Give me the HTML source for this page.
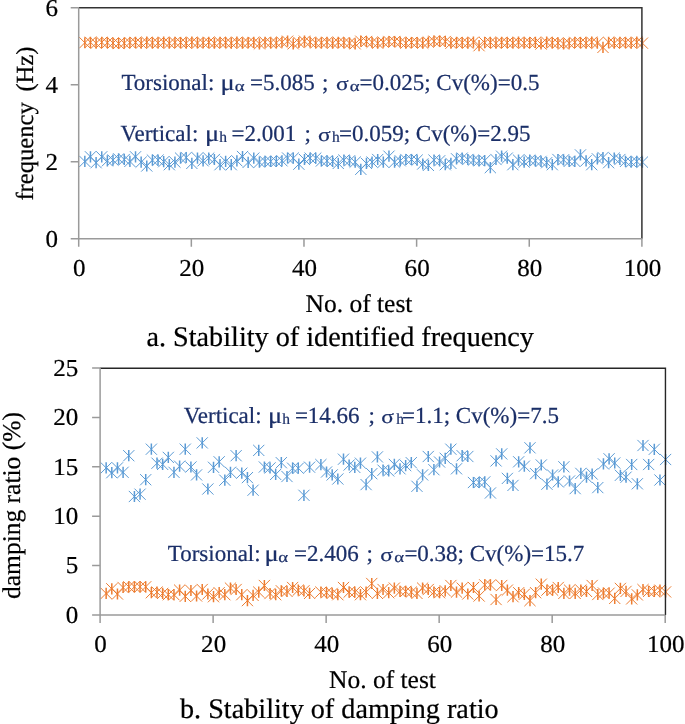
<!DOCTYPE html><html><head><meta charset="utf-8"><style>html,body{margin:0;padding:0;background:#fff;width:685px;height:724px;overflow:hidden}svg{display:block;will-change:transform}text{stroke-width:0.22px;text-rendering:geometricPrecision}</style></head><body><svg width="685" height="724" viewBox="0 0 685 724"><rect width="685" height="724" fill="#fff"/><path d="M79.23 37.13l11.20 11.20m-11.20 0l11.20 -11.20M84.86 36.70l11.20 11.20m-11.20 0l11.20 -11.20M90.50 37.65l11.20 11.20m-11.20 0l11.20 -11.20M96.13 36.69l11.20 11.20m-11.20 0l11.20 -11.20M101.76 37.15l11.20 11.20m-11.20 0l11.20 -11.20M107.39 37.44l11.20 11.20m-11.20 0l11.20 -11.20M113.02 37.90l11.20 11.20m-11.20 0l11.20 -11.20M118.66 37.55l11.20 11.20m-11.20 0l11.20 -11.20M124.29 36.98l11.20 11.20m-11.20 0l11.20 -11.20M129.92 36.82l11.20 11.20m-11.20 0l11.20 -11.20M135.55 37.63l11.20 11.20m-11.20 0l11.20 -11.20M141.18 36.61l11.20 11.20m-11.20 0l11.20 -11.20M146.82 37.29l11.20 11.20m-11.20 0l11.20 -11.20M152.45 37.31l11.20 11.20m-11.20 0l11.20 -11.20M158.08 36.60l11.20 11.20m-11.20 0l11.20 -11.20M163.71 37.62l11.20 11.20m-11.20 0l11.20 -11.20M169.34 36.84l11.20 11.20m-11.20 0l11.20 -11.20M174.98 36.96l11.20 11.20m-11.20 0l11.20 -11.20M180.61 37.57l11.20 11.20m-11.20 0l11.20 -11.20M186.24 36.56l11.20 11.20m-11.20 0l11.20 -11.20M191.87 37.42l11.20 11.20m-11.20 0l11.20 -11.20M197.50 37.17l11.20 11.20m-11.20 0l11.20 -11.20M203.14 36.68l11.20 11.20m-11.20 0l11.20 -11.20M208.77 37.65l11.20 11.20m-11.20 0l11.20 -11.20M214.40 36.72l11.20 11.20m-11.20 0l11.20 -11.20M220.03 37.10l11.20 11.20m-11.20 0l11.20 -11.20M225.66 37.47l11.20 11.20m-11.20 0l11.20 -11.20M231.30 36.55l11.20 11.20m-11.20 0l11.20 -11.20M236.93 37.53l11.20 11.20m-11.20 0l11.20 -11.20M242.56 37.02l11.20 11.20m-11.20 0l11.20 -11.20M248.19 36.79l11.20 11.20m-11.20 0l11.20 -11.20M253.82 38.20l11.20 11.20m-11.20 0l11.20 -11.20M259.46 36.63l11.20 11.20m-11.20 0l11.20 -11.20M265.09 37.25l11.20 11.20m-11.20 0l11.20 -11.20M270.72 37.35l11.20 11.20m-11.20 0l11.20 -11.20M276.35 36.58l11.20 11.20m-11.20 0l11.20 -11.20M281.98 35.60l11.20 11.20m-11.20 0l11.20 -11.20M287.62 38.20l11.20 11.20m-11.20 0l11.20 -11.20M293.25 36.92l11.20 11.20m-11.20 0l11.20 -11.20M298.88 35.60l11.20 11.20m-11.20 0l11.20 -11.20M304.51 36.57l11.20 11.20m-11.20 0l11.20 -11.20M310.14 37.39l11.20 11.20m-11.20 0l11.20 -11.20M315.78 37.21l11.20 11.20m-11.20 0l11.20 -11.20M321.41 36.65l11.20 11.20m-11.20 0l11.20 -11.20M327.04 37.64l11.20 11.20m-11.20 0l11.20 -11.20M332.67 36.75l11.20 11.20m-11.20 0l11.20 -11.20M338.30 37.06l11.20 11.20m-11.20 0l11.20 -11.20M343.94 37.50l11.20 11.20m-11.20 0l11.20 -11.20M349.57 38.20l11.20 11.20m-11.20 0l11.20 -11.20M355.20 35.60l11.20 11.20m-11.20 0l11.20 -11.20M360.83 35.90l11.20 11.20m-11.20 0l11.20 -11.20M366.46 36.75l11.20 11.20m-11.20 0l11.20 -11.20M372.10 37.64l11.20 11.20m-11.20 0l11.20 -11.20M377.73 36.65l11.20 11.20m-11.20 0l11.20 -11.20M383.36 35.90l11.20 11.20m-11.20 0l11.20 -11.20M388.99 35.90l11.20 11.20m-11.20 0l11.20 -11.20M394.62 36.57l11.20 11.20m-11.20 0l11.20 -11.20M400.26 37.59l11.20 11.20m-11.20 0l11.20 -11.20M405.89 36.92l11.20 11.20m-11.20 0l11.20 -11.20M411.52 36.88l11.20 11.20m-11.20 0l11.20 -11.20M417.15 37.61l11.20 11.20m-11.20 0l11.20 -11.20M422.78 36.58l11.20 11.20m-11.20 0l11.20 -11.20M428.42 35.60l11.20 11.20m-11.20 0l11.20 -11.20M434.05 35.60l11.20 11.20m-11.20 0l11.20 -11.20M439.68 35.90l11.20 11.20m-11.20 0l11.20 -11.20M445.31 37.64l11.20 11.20m-11.20 0l11.20 -11.20M450.94 36.79l11.20 11.20m-11.20 0l11.20 -11.20M456.58 37.02l11.20 11.20m-11.20 0l11.20 -11.20M462.21 37.53l11.20 11.20m-11.20 0l11.20 -11.20M467.84 36.55l11.20 11.20m-11.20 0l11.20 -11.20M473.47 40.10l11.20 11.20m-11.20 0l11.20 -11.20M479.10 37.10l11.20 11.20m-11.20 0l11.20 -11.20M484.74 36.72l11.20 11.20m-11.20 0l11.20 -11.20M490.37 37.65l11.20 11.20m-11.20 0l11.20 -11.20M496.00 36.68l11.20 11.20m-11.20 0l11.20 -11.20M501.63 37.17l11.20 11.20m-11.20 0l11.20 -11.20M507.26 37.42l11.20 11.20m-11.20 0l11.20 -11.20M512.90 36.56l11.20 11.20m-11.20 0l11.20 -11.20M518.53 37.57l11.20 11.20m-11.20 0l11.20 -11.20M524.16 36.96l11.20 11.20m-11.20 0l11.20 -11.20M529.79 36.84l11.20 11.20m-11.20 0l11.20 -11.20M535.42 38.40l11.20 11.20m-11.20 0l11.20 -11.20M541.06 36.60l11.20 11.20m-11.20 0l11.20 -11.20M546.69 37.31l11.20 11.20m-11.20 0l11.20 -11.20M552.32 37.29l11.20 11.20m-11.20 0l11.20 -11.20M557.95 38.40l11.20 11.20m-11.20 0l11.20 -11.20M563.58 37.63l11.20 11.20m-11.20 0l11.20 -11.20M569.22 36.82l11.20 11.20m-11.20 0l11.20 -11.20M574.85 36.98l11.20 11.20m-11.20 0l11.20 -11.20M580.48 37.55l11.20 11.20m-11.20 0l11.20 -11.20M586.11 36.56l11.20 11.20m-11.20 0l11.20 -11.20M591.74 37.44l11.20 11.20m-11.20 0l11.20 -11.20M597.38 41.80l11.20 11.20m-11.20 0l11.20 -11.20M603.01 36.69l11.20 11.20m-11.20 0l11.20 -11.20M608.64 37.65l11.20 11.20m-11.20 0l11.20 -11.20M614.27 36.70l11.20 11.20m-11.20 0l11.20 -11.20M619.90 37.13l11.20 11.20m-11.20 0l11.20 -11.20M625.54 37.45l11.20 11.20m-11.20 0l11.20 -11.20M631.17 36.55l11.20 11.20m-11.20 0l11.20 -11.20M636.80 37.54l11.20 11.20m-11.20 0l11.20 -11.20" fill="none" stroke="#ed7d31" stroke-width="1.0"/><path d="M84.83 37.13v11.20M90.46 36.70v11.20M96.10 37.65v11.20M101.73 36.69v11.20M107.36 37.15v11.20M112.99 37.44v11.20M118.62 37.90v11.20M124.26 37.55v11.20M129.89 36.98v11.20M135.52 36.82v11.20M141.15 37.63v11.20M146.78 36.61v11.20M152.42 37.29v11.20M158.05 37.31v11.20M163.68 36.60v11.20M169.31 37.62v11.20M174.94 36.84v11.20M180.58 36.96v11.20M186.21 37.57v11.20M191.84 36.56v11.20M197.47 37.42v11.20M203.10 37.17v11.20M208.74 36.68v11.20M214.37 37.65v11.20M220.00 36.72v11.20M225.63 37.10v11.20M231.26 37.47v11.20M236.90 36.55v11.20M242.53 37.53v11.20M248.16 37.02v11.20M253.79 36.79v11.20M259.42 38.20v11.20M265.06 36.63v11.20M270.69 37.25v11.20M276.32 37.35v11.20M281.95 36.58v11.20M287.58 35.60v11.20M293.22 38.20v11.20M298.85 36.92v11.20M304.48 35.60v11.20M310.11 36.57v11.20M315.74 37.39v11.20M321.38 37.21v11.20M327.01 36.65v11.20M332.64 37.64v11.20M338.27 36.75v11.20M343.90 37.06v11.20M349.54 37.50v11.20M355.17 38.20v11.20M360.80 35.60v11.20M366.43 35.90v11.20M372.06 36.75v11.20M377.70 37.64v11.20M383.33 36.65v11.20M388.96 35.90v11.20M394.59 35.90v11.20M400.22 36.57v11.20M405.86 37.59v11.20M411.49 36.92v11.20M417.12 36.88v11.20M422.75 37.61v11.20M428.38 36.58v11.20M434.02 35.60v11.20M439.65 35.60v11.20M445.28 35.90v11.20M450.91 37.64v11.20M456.54 36.79v11.20M462.18 37.02v11.20M467.81 37.53v11.20M473.44 36.55v11.20M479.07 40.10v11.20M484.70 37.10v11.20M490.34 36.72v11.20M495.97 37.65v11.20M501.60 36.68v11.20M507.23 37.17v11.20M512.86 37.42v11.20M518.50 36.56v11.20M524.13 37.57v11.20M529.76 36.96v11.20M535.39 36.84v11.20M541.02 38.40v11.20M546.66 36.60v11.20M552.29 37.31v11.20M557.92 37.29v11.20M563.55 38.40v11.20M569.18 37.63v11.20M574.82 36.82v11.20M580.45 36.98v11.20M586.08 37.55v11.20M591.71 36.56v11.20M597.34 37.44v11.20M602.98 41.80v11.20M608.61 36.69v11.20M614.24 37.65v11.20M619.87 36.70v11.20M625.50 37.13v11.20M631.14 37.45v11.20M636.77 36.55v11.20M642.40 37.54v11.20" fill="none" stroke="#ed7d31" stroke-width="1.5"/><path d="M79.23 155.80l11.20 11.20m-11.20 0l11.20 -11.20M84.86 151.20l11.20 11.20m-11.20 0l11.20 -11.20M90.50 157.10l11.20 11.20m-11.20 0l11.20 -11.20M96.13 151.20l11.20 11.20m-11.20 0l11.20 -11.20M101.76 155.20l11.20 11.20m-11.20 0l11.20 -11.20M107.39 154.50l11.20 11.20m-11.20 0l11.20 -11.20M113.02 153.20l11.20 11.20m-11.20 0l11.20 -11.20M118.66 153.90l11.20 11.20m-11.20 0l11.20 -11.20M124.29 155.80l11.20 11.20m-11.20 0l11.20 -11.20M129.92 151.20l11.20 11.20m-11.20 0l11.20 -11.20M135.55 156.50l11.20 11.20m-11.20 0l11.20 -11.20M141.18 160.40l11.20 11.20m-11.20 0l11.20 -11.20M146.82 154.50l11.20 11.20m-11.20 0l11.20 -11.20M152.45 154.50l11.20 11.20m-11.20 0l11.20 -11.20M158.08 156.10l11.20 11.20m-11.20 0l11.20 -11.20M163.71 159.10l11.20 11.20m-11.20 0l11.20 -11.20M169.34 156.50l11.20 11.20m-11.20 0l11.20 -11.20M174.98 152.50l11.20 11.20m-11.20 0l11.20 -11.20M180.61 151.90l11.20 11.20m-11.20 0l11.20 -11.20M186.24 157.80l11.20 11.20m-11.20 0l11.20 -11.20M191.87 152.50l11.20 11.20m-11.20 0l11.20 -11.20M197.50 155.20l11.20 11.20m-11.20 0l11.20 -11.20M203.14 152.50l11.20 11.20m-11.20 0l11.20 -11.20M208.77 153.90l11.20 11.20m-11.20 0l11.20 -11.20M214.40 159.10l11.20 11.20m-11.20 0l11.20 -11.20M220.03 155.80l11.20 11.20m-11.20 0l11.20 -11.20M225.66 159.10l11.20 11.20m-11.20 0l11.20 -11.20M231.30 155.20l11.20 11.20m-11.20 0l11.20 -11.20M236.93 150.90l11.20 11.20m-11.20 0l11.20 -11.20M242.56 156.80l11.20 11.20m-11.20 0l11.20 -11.20M248.19 152.50l11.20 11.20m-11.20 0l11.20 -11.20M253.82 156.50l11.20 11.20m-11.20 0l11.20 -11.20M259.46 155.80l11.20 11.20m-11.20 0l11.20 -11.20M265.09 155.80l11.20 11.20m-11.20 0l11.20 -11.20M270.72 155.80l11.20 11.20m-11.20 0l11.20 -11.20M276.35 155.20l11.20 11.20m-11.20 0l11.20 -11.20M281.98 152.40l11.20 11.20m-11.20 0l11.20 -11.20M287.62 152.50l11.20 11.20m-11.20 0l11.20 -11.20M293.25 158.60l11.20 11.20m-11.20 0l11.20 -11.20M298.88 153.90l11.20 11.20m-11.20 0l11.20 -11.20M304.51 152.50l11.20 11.20m-11.20 0l11.20 -11.20M310.14 152.50l11.20 11.20m-11.20 0l11.20 -11.20M315.78 155.40l11.20 11.20m-11.20 0l11.20 -11.20M321.41 155.20l11.20 11.20m-11.20 0l11.20 -11.20M327.04 155.80l11.20 11.20m-11.20 0l11.20 -11.20M332.67 157.80l11.20 11.20m-11.20 0l11.20 -11.20M338.30 154.50l11.20 11.20m-11.20 0l11.20 -11.20M343.94 155.20l11.20 11.20m-11.20 0l11.20 -11.20M349.57 156.50l11.20 11.20m-11.20 0l11.20 -11.20M355.20 163.70l11.20 11.20m-11.20 0l11.20 -11.20M360.83 157.80l11.20 11.20m-11.20 0l11.20 -11.20M366.46 156.50l11.20 11.20m-11.20 0l11.20 -11.20M372.10 153.90l11.20 11.20m-11.20 0l11.20 -11.20M377.73 156.50l11.20 11.20m-11.20 0l11.20 -11.20M383.36 150.60l11.20 11.20m-11.20 0l11.20 -11.20M388.99 156.50l11.20 11.20m-11.20 0l11.20 -11.20M394.62 155.20l11.20 11.20m-11.20 0l11.20 -11.20M400.26 153.90l11.20 11.20m-11.20 0l11.20 -11.20M405.89 153.90l11.20 11.20m-11.20 0l11.20 -11.20M411.52 154.50l11.20 11.20m-11.20 0l11.20 -11.20M417.15 158.40l11.20 11.20m-11.20 0l11.20 -11.20M422.78 159.80l11.20 11.20m-11.20 0l11.20 -11.20M428.42 154.50l11.20 11.20m-11.20 0l11.20 -11.20M434.05 155.20l11.20 11.20m-11.20 0l11.20 -11.20M439.68 159.10l11.20 11.20m-11.20 0l11.20 -11.20M445.31 157.80l11.20 11.20m-11.20 0l11.20 -11.20M450.94 153.20l11.20 11.20m-11.20 0l11.20 -11.20M456.58 152.50l11.20 11.20m-11.20 0l11.20 -11.20M462.21 153.90l11.20 11.20m-11.20 0l11.20 -11.20M467.84 154.50l11.20 11.20m-11.20 0l11.20 -11.20M473.47 155.20l11.20 11.20m-11.20 0l11.20 -11.20M479.10 154.90l11.20 11.20m-11.20 0l11.20 -11.20M484.74 162.00l11.20 11.20m-11.20 0l11.20 -11.20M490.37 153.90l11.20 11.20m-11.20 0l11.20 -11.20M496.00 150.60l11.20 11.20m-11.20 0l11.20 -11.20M501.63 152.50l11.20 11.20m-11.20 0l11.20 -11.20M507.26 159.10l11.20 11.20m-11.20 0l11.20 -11.20M512.90 154.50l11.20 11.20m-11.20 0l11.20 -11.20M518.53 156.50l11.20 11.20m-11.20 0l11.20 -11.20M524.16 154.50l11.20 11.20m-11.20 0l11.20 -11.20M529.79 155.20l11.20 11.20m-11.20 0l11.20 -11.20M535.42 155.80l11.20 11.20m-11.20 0l11.20 -11.20M541.06 157.10l11.20 11.20m-11.20 0l11.20 -11.20M546.69 159.10l11.20 11.20m-11.20 0l11.20 -11.20M552.32 153.90l11.20 11.20m-11.20 0l11.20 -11.20M557.95 154.20l11.20 11.20m-11.20 0l11.20 -11.20M563.58 155.80l11.20 11.20m-11.20 0l11.20 -11.20M569.22 155.80l11.20 11.20m-11.20 0l11.20 -11.20M574.85 149.30l11.20 11.20m-11.20 0l11.20 -11.20M580.48 155.20l11.20 11.20m-11.20 0l11.20 -11.20M586.11 159.10l11.20 11.20m-11.20 0l11.20 -11.20M591.74 153.20l11.20 11.20m-11.20 0l11.20 -11.20M597.38 151.90l11.20 11.20m-11.20 0l11.20 -11.20M603.01 157.10l11.20 11.20m-11.20 0l11.20 -11.20M608.64 152.50l11.20 11.20m-11.20 0l11.20 -11.20M614.27 153.90l11.20 11.20m-11.20 0l11.20 -11.20M619.90 155.80l11.20 11.20m-11.20 0l11.20 -11.20M625.54 156.50l11.20 11.20m-11.20 0l11.20 -11.20M631.17 155.80l11.20 11.20m-11.20 0l11.20 -11.20M636.80 156.50l11.20 11.20m-11.20 0l11.20 -11.20" fill="none" stroke="#5b9bd5" stroke-width="1.0"/><path d="M84.83 155.80v11.20M90.46 151.20v11.20M96.10 157.10v11.20M101.73 151.20v11.20M107.36 155.20v11.20M112.99 154.50v11.20M118.62 153.20v11.20M124.26 153.90v11.20M129.89 155.80v11.20M135.52 151.20v11.20M141.15 156.50v11.20M146.78 160.40v11.20M152.42 154.50v11.20M158.05 154.50v11.20M163.68 156.10v11.20M169.31 159.10v11.20M174.94 156.50v11.20M180.58 152.50v11.20M186.21 151.90v11.20M191.84 157.80v11.20M197.47 152.50v11.20M203.10 155.20v11.20M208.74 152.50v11.20M214.37 153.90v11.20M220.00 159.10v11.20M225.63 155.80v11.20M231.26 159.10v11.20M236.90 155.20v11.20M242.53 150.90v11.20M248.16 156.80v11.20M253.79 152.50v11.20M259.42 156.50v11.20M265.06 155.80v11.20M270.69 155.80v11.20M276.32 155.80v11.20M281.95 155.20v11.20M287.58 152.40v11.20M293.22 152.50v11.20M298.85 158.60v11.20M304.48 153.90v11.20M310.11 152.50v11.20M315.74 152.50v11.20M321.38 155.40v11.20M327.01 155.20v11.20M332.64 155.80v11.20M338.27 157.80v11.20M343.90 154.50v11.20M349.54 155.20v11.20M355.17 156.50v11.20M360.80 163.70v11.20M366.43 157.80v11.20M372.06 156.50v11.20M377.70 153.90v11.20M383.33 156.50v11.20M388.96 150.60v11.20M394.59 156.50v11.20M400.22 155.20v11.20M405.86 153.90v11.20M411.49 153.90v11.20M417.12 154.50v11.20M422.75 158.40v11.20M428.38 159.80v11.20M434.02 154.50v11.20M439.65 155.20v11.20M445.28 159.10v11.20M450.91 157.80v11.20M456.54 153.20v11.20M462.18 152.50v11.20M467.81 153.90v11.20M473.44 154.50v11.20M479.07 155.20v11.20M484.70 154.90v11.20M490.34 162.00v11.20M495.97 153.90v11.20M501.60 150.60v11.20M507.23 152.50v11.20M512.86 159.10v11.20M518.50 154.50v11.20M524.13 156.50v11.20M529.76 154.50v11.20M535.39 155.20v11.20M541.02 155.80v11.20M546.66 157.10v11.20M552.29 159.10v11.20M557.92 153.90v11.20M563.55 154.20v11.20M569.18 155.80v11.20M574.82 155.80v11.20M580.45 149.30v11.20M586.08 155.20v11.20M591.71 159.10v11.20M597.34 153.20v11.20M602.98 151.90v11.20M608.61 157.10v11.20M614.24 152.50v11.20M619.87 153.90v11.20M625.50 155.80v11.20M631.14 156.50v11.20M636.77 155.80v11.20M642.40 156.50v11.20" fill="none" stroke="#5b9bd5" stroke-width="1.5"/><path d="M78.7,7.7 H641.9 V238.8" fill="none" stroke="#333333" stroke-width="1.5"/><path d="M78.7,7.7 V238.8 H641.9 M70.7,238.8 H78.7 M70.7,161.76666666666665 H78.7 M70.7,84.73333333333332 H78.7 M70.7,7.699999999999989 H78.7 M78.7,238.8 V246.8 M191.33999999999997,238.8 V246.8 M303.97999999999996,238.8 V246.8 M416.6199999999999,238.8 V246.8 M529.26,238.8 V246.8 M641.9,238.8 V246.8" fill="none" stroke="#9a9a9a" stroke-width="1.5"/><text transform="translate(58,247.00) scale(1.03,1)" font-family="Liberation Serif" font-size="24.3" text-anchor="end" fill="#000" stroke="#000">0</text><text transform="translate(58,169.97) scale(1.03,1)" font-family="Liberation Serif" font-size="24.3" text-anchor="end" fill="#000" stroke="#000">2</text><text transform="translate(58,92.93) scale(1.03,1)" font-family="Liberation Serif" font-size="24.3" text-anchor="end" fill="#000" stroke="#000">4</text><text transform="translate(58,15.90) scale(1.03,1)" font-family="Liberation Serif" font-size="24.3" text-anchor="end" fill="#000" stroke="#000">6</text><text transform="translate(79.20,275.8) scale(1.03,1)" font-family="Liberation Serif" font-size="24.3" text-anchor="middle" fill="#000" stroke="#000">0</text><text transform="translate(191.84,275.8) scale(1.03,1)" font-family="Liberation Serif" font-size="24.3" text-anchor="middle" fill="#000" stroke="#000">20</text><text transform="translate(304.48,275.8) scale(1.03,1)" font-family="Liberation Serif" font-size="24.3" text-anchor="middle" fill="#000" stroke="#000">40</text><text transform="translate(417.12,275.8) scale(1.03,1)" font-family="Liberation Serif" font-size="24.3" text-anchor="middle" fill="#000" stroke="#000">60</text><text transform="translate(529.76,275.8) scale(1.03,1)" font-family="Liberation Serif" font-size="24.3" text-anchor="middle" fill="#000" stroke="#000">80</text><text transform="translate(642.40,275.8) scale(1.03,1)" font-family="Liberation Serif" font-size="24.3" text-anchor="middle" fill="#000" stroke="#000">100</text><text x="305.5" y="311.5" font-family="Liberation Serif" font-size="25.5" fill="#000" stroke="#000">No. of test</text><text x="146.5" y="345.7" font-family="Liberation Serif" font-size="28.2" fill="#000" stroke="#000">a. Stability of identified frequency</text><text transform="translate(32.8,200.6) rotate(-90)" font-family="Liberation Serif" font-size="24.6" fill="#000" stroke="#000">frequency</text><text transform="translate(32.8,91.6) rotate(-90)" font-family="Liberation Serif" font-size="24.6" fill="#000" stroke="#000">(Hz)</text><text transform="translate(121.40,89.70) scale(1.0,1)" font-family="Liberation Serif" font-size="23" fill="#1b2f68" stroke="#1b2f68" xml:space="preserve">Torsional:</text><text transform="translate(220.50,89.70) scale(1.15,1)" font-family="Liberation Serif" font-size="23" fill="#1b2f68" stroke="#1b2f68" xml:space="preserve">μ</text><text transform="translate(234.67,90.60) scale(1.25,1)" font-family="Liberation Serif" font-size="15" fill="#1b2f68" stroke="#1b2f68" xml:space="preserve">α</text><text transform="translate(250.10,89.70) scale(1.0,1)" font-family="Liberation Serif" font-size="23" fill="#1b2f68" stroke="#1b2f68" xml:space="preserve">=5.085</text><text transform="translate(322.00,89.70) scale(1.0,1)" font-family="Liberation Serif" font-size="23" fill="#1b2f68" stroke="#1b2f68" xml:space="preserve">;</text><text transform="translate(335.89,89.70) scale(1.2,1)" font-family="Liberation Serif" font-size="19.5" fill="#1b2f68" stroke="#1b2f68" xml:space="preserve">σ</text><text transform="translate(349.67,90.60) scale(1.25,1)" font-family="Liberation Serif" font-size="15" fill="#1b2f68" stroke="#1b2f68" xml:space="preserve">α</text><text transform="translate(359.50,89.70) scale(1.0,1)" font-family="Liberation Serif" font-size="23" fill="#1b2f68" stroke="#1b2f68" xml:space="preserve">=0.025; Cv(%)=0.5</text><text transform="translate(120.40,141.20) scale(1.0,1)" font-family="Liberation Serif" font-size="23" fill="#1b2f68" stroke="#1b2f68" xml:space="preserve">Vertical:</text><text transform="translate(205.10,141.20) scale(1.15,1)" font-family="Liberation Serif" font-size="23" fill="#1b2f68" stroke="#1b2f68" xml:space="preserve">μ</text><text transform="translate(219.30,142.10) scale(1.0,1)" font-family="Liberation Serif" font-size="15.5" fill="#1b2f68" stroke="#1b2f68" xml:space="preserve">h</text><text transform="translate(231.60,141.20) scale(1.0,1)" font-family="Liberation Serif" font-size="23" fill="#1b2f68" stroke="#1b2f68" xml:space="preserve">=2.001</text><text transform="translate(304.50,141.20) scale(1.0,1)" font-family="Liberation Serif" font-size="23" fill="#1b2f68" stroke="#1b2f68" xml:space="preserve">;</text><text transform="translate(317.89,141.20) scale(1.2,1)" font-family="Liberation Serif" font-size="19.5" fill="#1b2f68" stroke="#1b2f68" xml:space="preserve">σ</text><text transform="translate(332.10,142.10) scale(1.0,1)" font-family="Liberation Serif" font-size="15.5" fill="#1b2f68" stroke="#1b2f68" xml:space="preserve">h</text><text transform="translate(339.00,141.20) scale(1.0,1)" font-family="Liberation Serif" font-size="23" fill="#1b2f68" stroke="#1b2f68" xml:space="preserve">=0.059; Cv(%)=2.95</text><path d="M100.55 587.80l11.20 11.20m-11.20 0l11.20 -11.20M106.20 583.20l11.20 11.20m-11.20 0l11.20 -11.20M111.85 588.40l11.20 11.20m-11.20 0l11.20 -11.20M117.50 581.90l11.20 11.20m-11.20 0l11.20 -11.20M123.16 581.20l11.20 11.20m-11.20 0l11.20 -11.20M128.81 581.20l11.20 11.20m-11.20 0l11.20 -11.20M134.46 581.20l11.20 11.20m-11.20 0l11.20 -11.20M140.11 581.20l11.20 11.20m-11.20 0l11.20 -11.20M145.76 587.10l11.20 11.20m-11.20 0l11.20 -11.20M151.41 586.50l11.20 11.20m-11.20 0l11.20 -11.20M157.06 587.80l11.20 11.20m-11.20 0l11.20 -11.20M162.71 589.10l11.20 11.20m-11.20 0l11.20 -11.20M168.36 589.10l11.20 11.20m-11.20 0l11.20 -11.20M174.01 584.50l11.20 11.20m-11.20 0l11.20 -11.20M179.66 590.70l11.20 11.20m-11.20 0l11.20 -11.20M185.32 584.90l11.20 11.20m-11.20 0l11.20 -11.20M190.97 590.40l11.20 11.20m-11.20 0l11.20 -11.20M196.62 583.90l11.20 11.20m-11.20 0l11.20 -11.20M202.27 588.40l11.20 11.20m-11.20 0l11.20 -11.20M207.92 591.10l11.20 11.20m-11.20 0l11.20 -11.20M213.57 587.10l11.20 11.20m-11.20 0l11.20 -11.20M219.22 589.10l11.20 11.20m-11.20 0l11.20 -11.20M224.87 582.50l11.20 11.20m-11.20 0l11.20 -11.20M230.52 583.90l11.20 11.20m-11.20 0l11.20 -11.20M236.18 589.10l11.20 11.20m-11.20 0l11.20 -11.20M241.83 595.00l11.20 11.20m-11.20 0l11.20 -11.20M247.48 589.80l11.20 11.20m-11.20 0l11.20 -11.20M253.13 586.50l11.20 11.20m-11.20 0l11.20 -11.20M258.78 579.90l11.20 11.20m-11.20 0l11.20 -11.20M264.43 587.90l11.20 11.20m-11.20 0l11.20 -11.20M270.08 589.10l11.20 11.20m-11.20 0l11.20 -11.20M275.73 585.20l11.20 11.20m-11.20 0l11.20 -11.20M281.38 585.80l11.20 11.20m-11.20 0l11.20 -11.20M287.03 581.90l11.20 11.20m-11.20 0l11.20 -11.20M292.68 584.50l11.20 11.20m-11.20 0l11.20 -11.20M298.34 585.20l11.20 11.20m-11.20 0l11.20 -11.20M303.99 587.80l11.20 11.20m-11.20 0l11.20 -11.20M315.29 586.50l11.20 11.20m-11.20 0l11.20 -11.20M320.94 587.10l11.20 11.20m-11.20 0l11.20 -11.20M326.59 587.80l11.20 11.20m-11.20 0l11.20 -11.20M332.24 589.10l11.20 11.20m-11.20 0l11.20 -11.20M337.89 581.90l11.20 11.20m-11.20 0l11.20 -11.20M343.54 586.50l11.20 11.20m-11.20 0l11.20 -11.20M349.19 586.50l11.20 11.20m-11.20 0l11.20 -11.20M354.85 589.10l11.20 11.20m-11.20 0l11.20 -11.20M360.50 586.50l11.20 11.20m-11.20 0l11.20 -11.20M366.15 577.90l11.20 11.20m-11.20 0l11.20 -11.20M371.80 587.80l11.20 11.20m-11.20 0l11.20 -11.20M377.45 583.90l11.20 11.20m-11.20 0l11.20 -11.20M383.10 587.10l11.20 11.20m-11.20 0l11.20 -11.20M388.75 582.50l11.20 11.20m-11.20 0l11.20 -11.20M394.40 585.80l11.20 11.20m-11.20 0l11.20 -11.20M400.05 585.80l11.20 11.20m-11.20 0l11.20 -11.20M405.70 586.50l11.20 11.20m-11.20 0l11.20 -11.20M411.36 587.80l11.20 11.20m-11.20 0l11.20 -11.20M417.01 582.50l11.20 11.20m-11.20 0l11.20 -11.20M422.66 583.90l11.20 11.20m-11.20 0l11.20 -11.20M428.31 586.50l11.20 11.20m-11.20 0l11.20 -11.20M433.96 587.10l11.20 11.20m-11.20 0l11.20 -11.20M439.61 585.20l11.20 11.20m-11.20 0l11.20 -11.20M445.26 579.90l11.20 11.20m-11.20 0l11.20 -11.20M450.91 586.50l11.20 11.20m-11.20 0l11.20 -11.20M456.56 582.50l11.20 11.20m-11.20 0l11.20 -11.20M462.21 588.40l11.20 11.20m-11.20 0l11.20 -11.20M467.87 581.90l11.20 11.20m-11.20 0l11.20 -11.20M473.52 590.40l11.20 11.20m-11.20 0l11.20 -11.20M479.17 579.30l11.20 11.20m-11.20 0l11.20 -11.20M484.82 579.30l11.20 11.20m-11.20 0l11.20 -11.20M490.47 593.90l11.20 11.20m-11.20 0l11.20 -11.20M496.12 579.90l11.20 11.20m-11.20 0l11.20 -11.20M501.77 584.50l11.20 11.20m-11.20 0l11.20 -11.20M507.42 591.10l11.20 11.20m-11.20 0l11.20 -11.20M513.07 587.10l11.20 11.20m-11.20 0l11.20 -11.20M518.73 588.70l11.20 11.20m-11.20 0l11.20 -11.20M524.38 595.00l11.20 11.20m-11.20 0l11.20 -11.20M530.03 587.10l11.20 11.20m-11.20 0l11.20 -11.20M535.68 578.60l11.20 11.20m-11.20 0l11.20 -11.20M541.33 584.50l11.20 11.20m-11.20 0l11.20 -11.20M546.98 584.50l11.20 11.20m-11.20 0l11.20 -11.20M552.63 581.90l11.20 11.20m-11.20 0l11.20 -11.20M558.28 587.80l11.20 11.20m-11.20 0l11.20 -11.20M563.93 584.50l11.20 11.20m-11.20 0l11.20 -11.20M569.58 587.80l11.20 11.20m-11.20 0l11.20 -11.20M575.24 584.50l11.20 11.20m-11.20 0l11.20 -11.20M580.89 585.80l11.20 11.20m-11.20 0l11.20 -11.20M586.54 579.90l11.20 11.20m-11.20 0l11.20 -11.20M592.19 588.90l11.20 11.20m-11.20 0l11.20 -11.20M597.84 587.40l11.20 11.20m-11.20 0l11.20 -11.20M603.49 587.60l11.20 11.20m-11.20 0l11.20 -11.20M609.14 592.80l11.20 11.20m-11.20 0l11.20 -11.20M614.79 582.80l11.20 11.20m-11.20 0l11.20 -11.20M620.44 585.80l11.20 11.20m-11.20 0l11.20 -11.20M626.09 593.30l11.20 11.20m-11.20 0l11.20 -11.20M631.75 589.30l11.20 11.20m-11.20 0l11.20 -11.20M637.40 584.00l11.20 11.20m-11.20 0l11.20 -11.20M643.05 585.80l11.20 11.20m-11.20 0l11.20 -11.20M648.70 585.80l11.20 11.20m-11.20 0l11.20 -11.20M654.35 584.60l11.20 11.20m-11.20 0l11.20 -11.20M660.00 586.30l11.20 11.20m-11.20 0l11.20 -11.20" fill="none" stroke="#ed7d31" stroke-width="1.0"/><path d="M106.15 587.80v11.20M111.80 583.20v11.20M117.45 588.40v11.20M123.10 581.90v11.20M128.75 581.20v11.20M134.41 581.20v11.20M140.06 581.20v11.20M145.71 581.20v11.20M151.36 587.10v11.20M157.01 586.50v11.20M162.66 587.80v11.20M168.31 589.10v11.20M173.96 589.10v11.20M179.61 584.50v11.20M185.26 590.70v11.20M190.92 584.90v11.20M196.57 590.40v11.20M202.22 583.90v11.20M207.87 588.40v11.20M213.52 591.10v11.20M219.17 587.10v11.20M224.82 589.10v11.20M230.47 582.50v11.20M236.12 583.90v11.20M241.78 589.10v11.20M247.43 595.00v11.20M253.08 589.80v11.20M258.73 586.50v11.20M264.38 579.90v11.20M270.03 587.90v11.20M275.68 589.10v11.20M281.33 585.20v11.20M286.98 585.80v11.20M292.63 581.90v11.20M298.28 584.50v11.20M303.94 585.20v11.20M309.59 587.80v11.20M320.89 586.50v11.20M326.54 587.10v11.20M332.19 587.80v11.20M337.84 589.10v11.20M343.49 581.90v11.20M349.14 586.50v11.20M354.79 586.50v11.20M360.45 589.10v11.20M366.10 586.50v11.20M371.75 577.90v11.20M377.40 587.80v11.20M383.05 583.90v11.20M388.70 587.10v11.20M394.35 582.50v11.20M400.00 585.80v11.20M405.65 585.80v11.20M411.31 586.50v11.20M416.96 587.80v11.20M422.61 582.50v11.20M428.26 583.90v11.20M433.91 586.50v11.20M439.56 587.10v11.20M445.21 585.20v11.20M450.86 579.90v11.20M456.51 586.50v11.20M462.16 582.50v11.20M467.81 588.40v11.20M473.47 581.90v11.20M479.12 590.40v11.20M484.77 579.30v11.20M490.42 579.30v11.20M496.07 593.90v11.20M501.72 579.90v11.20M507.37 584.50v11.20M513.02 591.10v11.20M518.67 587.10v11.20M524.33 588.70v11.20M529.98 595.00v11.20M535.63 587.10v11.20M541.28 578.60v11.20M546.93 584.50v11.20M552.58 584.50v11.20M558.23 581.90v11.20M563.88 587.80v11.20M569.53 584.50v11.20M575.18 587.80v11.20M580.84 584.50v11.20M586.49 585.80v11.20M592.14 579.90v11.20M597.79 588.90v11.20M603.44 587.40v11.20M609.09 587.60v11.20M614.74 592.80v11.20M620.39 582.80v11.20M626.04 585.80v11.20M631.69 593.30v11.20M637.35 589.30v11.20M643.00 584.00v11.20M648.65 585.80v11.20M654.30 585.80v11.20M659.95 584.60v11.20M665.60 586.30v11.20" fill="none" stroke="#ed7d31" stroke-width="1.5"/><path d="M100.55 462.30l11.20 11.20m-11.20 0l11.20 -11.20M106.20 467.10l11.20 11.20m-11.20 0l11.20 -11.20M111.85 462.30l11.20 11.20m-11.20 0l11.20 -11.20M117.50 466.70l11.20 11.20m-11.20 0l11.20 -11.20M123.16 450.10l11.20 11.20m-11.20 0l11.20 -11.20M128.81 490.90l11.20 11.20m-11.20 0l11.20 -11.20M134.46 488.60l11.20 11.20m-11.20 0l11.20 -11.20M140.11 474.10l11.20 11.20m-11.20 0l11.20 -11.20M145.76 443.60l11.20 11.20m-11.20 0l11.20 -11.20M151.41 457.60l11.20 11.20m-11.20 0l11.20 -11.20M157.06 458.80l11.20 11.20m-11.20 0l11.20 -11.20M162.71 451.80l11.20 11.20m-11.20 0l11.20 -11.20M168.36 466.70l11.20 11.20m-11.20 0l11.20 -11.20M174.01 460.60l11.20 11.20m-11.20 0l11.20 -11.20M179.66 443.60l11.20 11.20m-11.20 0l11.20 -11.20M185.32 461.40l11.20 11.20m-11.20 0l11.20 -11.20M190.97 469.30l11.20 11.20m-11.20 0l11.20 -11.20M196.62 437.30l11.20 11.20m-11.20 0l11.20 -11.20M202.27 483.40l11.20 11.20m-11.20 0l11.20 -11.20M207.92 461.70l11.20 11.20m-11.20 0l11.20 -11.20M213.57 456.20l11.20 11.20m-11.20 0l11.20 -11.20M219.22 474.60l11.20 11.20m-11.20 0l11.20 -11.20M224.87 466.70l11.20 11.20m-11.20 0l11.20 -11.20M230.52 450.10l11.20 11.20m-11.20 0l11.20 -11.20M236.18 467.60l11.20 11.20m-11.20 0l11.20 -11.20M241.83 472.00l11.20 11.20m-11.20 0l11.20 -11.20M247.48 484.60l11.20 11.20m-11.20 0l11.20 -11.20M253.13 444.80l11.20 11.20m-11.20 0l11.20 -11.20M258.78 461.40l11.20 11.20m-11.20 0l11.20 -11.20M264.43 462.30l11.20 11.20m-11.20 0l11.20 -11.20M270.08 468.80l11.20 11.20m-11.20 0l11.20 -11.20M275.73 457.10l11.20 11.20m-11.20 0l11.20 -11.20M281.38 470.90l11.20 11.20m-11.20 0l11.20 -11.20M287.03 462.60l11.20 11.20m-11.20 0l11.20 -11.20M292.68 462.60l11.20 11.20m-11.20 0l11.20 -11.20M298.34 489.70l11.20 11.20m-11.20 0l11.20 -11.20M303.99 461.60l11.20 11.20m-11.20 0l11.20 -11.20M315.29 459.00l11.20 11.20m-11.20 0l11.20 -11.20M320.94 466.40l11.20 11.20m-11.20 0l11.20 -11.20M326.59 469.30l11.20 11.20m-11.20 0l11.20 -11.20M332.24 473.40l11.20 11.20m-11.20 0l11.20 -11.20M337.89 453.60l11.20 11.20m-11.20 0l11.20 -11.20M343.54 459.40l11.20 11.20m-11.20 0l11.20 -11.20M349.19 461.80l11.20 11.20m-11.20 0l11.20 -11.20M354.85 457.60l11.20 11.20m-11.20 0l11.20 -11.20M360.50 479.00l11.20 11.20m-11.20 0l11.20 -11.20M366.15 468.10l11.20 11.20m-11.20 0l11.20 -11.20M371.80 451.30l11.20 11.20m-11.20 0l11.20 -11.20M377.45 464.60l11.20 11.20m-11.20 0l11.20 -11.20M383.10 465.30l11.20 11.20m-11.20 0l11.20 -11.20M388.75 458.80l11.20 11.20m-11.20 0l11.20 -11.20M394.40 463.20l11.20 11.20m-11.20 0l11.20 -11.20M400.05 460.00l11.20 11.20m-11.20 0l11.20 -11.20M405.70 457.10l11.20 11.20m-11.20 0l11.20 -11.20M411.36 480.70l11.20 11.20m-11.20 0l11.20 -11.20M417.01 469.30l11.20 11.20m-11.20 0l11.20 -11.20M422.66 450.90l11.20 11.20m-11.20 0l11.20 -11.20M428.31 464.10l11.20 11.20m-11.20 0l11.20 -11.20M433.96 456.40l11.20 11.20m-11.20 0l11.20 -11.20M439.61 452.70l11.20 11.20m-11.20 0l11.20 -11.20M445.26 443.60l11.20 11.20m-11.20 0l11.20 -11.20M450.91 463.20l11.20 11.20m-11.20 0l11.20 -11.20M456.56 450.10l11.20 11.20m-11.20 0l11.20 -11.20M462.21 450.90l11.20 11.20m-11.20 0l11.20 -11.20M467.87 476.90l11.20 11.20m-11.20 0l11.20 -11.20M473.52 476.90l11.20 11.20m-11.20 0l11.20 -11.20M479.17 476.30l11.20 11.20m-11.20 0l11.20 -11.20M484.82 487.40l11.20 11.20m-11.20 0l11.20 -11.20M490.47 455.30l11.20 11.20m-11.20 0l11.20 -11.20M496.12 448.30l11.20 11.20m-11.20 0l11.20 -11.20M501.77 472.80l11.20 11.20m-11.20 0l11.20 -11.20M507.42 479.80l11.20 11.20m-11.20 0l11.20 -11.20M513.07 456.20l11.20 11.20m-11.20 0l11.20 -11.20M518.73 460.60l11.20 11.20m-11.20 0l11.20 -11.20M524.38 442.20l11.20 11.20m-11.20 0l11.20 -11.20M530.03 468.10l11.20 11.20m-11.20 0l11.20 -11.20M535.68 459.40l11.20 11.20m-11.20 0l11.20 -11.20M541.33 478.60l11.20 11.20m-11.20 0l11.20 -11.20M546.98 469.40l11.20 11.20m-11.20 0l11.20 -11.20M552.63 476.30l11.20 11.20m-11.20 0l11.20 -11.20M558.28 461.20l11.20 11.20m-11.20 0l11.20 -11.20M563.93 475.40l11.20 11.20m-11.20 0l11.20 -11.20M569.58 483.00l11.20 11.20m-11.20 0l11.20 -11.20M575.24 467.80l11.20 11.20m-11.20 0l11.20 -11.20M580.89 471.60l11.20 11.20m-11.20 0l11.20 -11.20M586.54 468.40l11.20 11.20m-11.20 0l11.20 -11.20M592.19 482.00l11.20 11.20m-11.20 0l11.20 -11.20M597.84 458.30l11.20 11.20m-11.20 0l11.20 -11.20M603.49 453.20l11.20 11.20m-11.20 0l11.20 -11.20M609.14 457.40l11.20 11.20m-11.20 0l11.20 -11.20M614.79 469.70l11.20 11.20m-11.20 0l11.20 -11.20M620.44 471.60l11.20 11.20m-11.20 0l11.20 -11.20M626.09 458.90l11.20 11.20m-11.20 0l11.20 -11.20M631.75 478.20l11.20 11.20m-11.20 0l11.20 -11.20M637.40 439.90l11.20 11.20m-11.20 0l11.20 -11.20M643.05 458.90l11.20 11.20m-11.20 0l11.20 -11.20M648.70 443.70l11.20 11.20m-11.20 0l11.20 -11.20M654.35 474.40l11.20 11.20m-11.20 0l11.20 -11.20M660.00 453.90l11.20 11.20m-11.20 0l11.20 -11.20" fill="none" stroke="#5b9bd5" stroke-width="1.0"/><path d="M106.15 462.30v11.20M111.80 467.10v11.20M117.45 462.30v11.20M123.10 466.70v11.20M128.75 450.10v11.20M134.41 490.90v11.20M140.06 488.60v11.20M145.71 474.10v11.20M151.36 443.60v11.20M157.01 457.60v11.20M162.66 458.80v11.20M168.31 451.80v11.20M173.96 466.70v11.20M179.61 460.60v11.20M185.26 443.60v11.20M190.92 461.40v11.20M196.57 469.30v11.20M202.22 437.30v11.20M207.87 483.40v11.20M213.52 461.70v11.20M219.17 456.20v11.20M224.82 474.60v11.20M230.47 466.70v11.20M236.12 450.10v11.20M241.78 467.60v11.20M247.43 472.00v11.20M253.08 484.60v11.20M258.73 444.80v11.20M264.38 461.40v11.20M270.03 462.30v11.20M275.68 468.80v11.20M281.33 457.10v11.20M286.98 470.90v11.20M292.63 462.60v11.20M298.28 462.60v11.20M303.94 489.70v11.20M309.59 461.60v11.20M320.89 459.00v11.20M326.54 466.40v11.20M332.19 469.30v11.20M337.84 473.40v11.20M343.49 453.60v11.20M349.14 459.40v11.20M354.79 461.80v11.20M360.45 457.60v11.20M366.10 479.00v11.20M371.75 468.10v11.20M377.40 451.30v11.20M383.05 464.60v11.20M388.70 465.30v11.20M394.35 458.80v11.20M400.00 463.20v11.20M405.65 460.00v11.20M411.31 457.10v11.20M416.96 480.70v11.20M422.61 469.30v11.20M428.26 450.90v11.20M433.91 464.10v11.20M439.56 456.40v11.20M445.21 452.70v11.20M450.86 443.60v11.20M456.51 463.20v11.20M462.16 450.10v11.20M467.81 450.90v11.20M473.47 476.90v11.20M479.12 476.90v11.20M484.77 476.30v11.20M490.42 487.40v11.20M496.07 455.30v11.20M501.72 448.30v11.20M507.37 472.80v11.20M513.02 479.80v11.20M518.67 456.20v11.20M524.33 460.60v11.20M529.98 442.20v11.20M535.63 468.10v11.20M541.28 459.40v11.20M546.93 478.60v11.20M552.58 469.40v11.20M558.23 476.30v11.20M563.88 461.20v11.20M569.53 475.40v11.20M575.18 483.00v11.20M580.84 467.80v11.20M586.49 471.60v11.20M592.14 468.40v11.20M597.79 482.00v11.20M603.44 458.30v11.20M609.09 453.20v11.20M614.74 457.40v11.20M620.39 469.70v11.20M626.04 471.60v11.20M631.69 458.90v11.20M637.35 478.20v11.20M643.00 439.90v11.20M648.65 458.90v11.20M654.30 443.70v11.20M659.95 474.40v11.20M665.60 453.90v11.20" fill="none" stroke="#5b9bd5" stroke-width="1.5"/><path d="M100.1,368.2 H665.45 V614.9" fill="none" stroke="#262626" stroke-width="1.4"/><path d="M100.1,368.0 V614.9 H665.2 M92.1,614.9 H100.1 M92.1,565.52 H100.1 M92.1,516.14 H100.1 M92.1,466.76 H100.1 M92.1,417.38 H100.1 M92.1,368.0 H100.1 M100.1,614.9 V622.9 M213.12,614.9 V622.9 M326.14,614.9 V622.9 M439.15999999999997,614.9 V622.9 M552.18,614.9 V622.9 M665.2,614.9 V622.9" fill="none" stroke="#9a9a9a" stroke-width="1.5"/><text transform="translate(78.3,622.75) scale(1.03,1)" font-family="Liberation Serif" font-size="24.3" text-anchor="end" fill="#000" stroke="#000">0</text><text transform="translate(78.3,573.37) scale(1.03,1)" font-family="Liberation Serif" font-size="24.3" text-anchor="end" fill="#000" stroke="#000">5</text><text transform="translate(78.3,523.99) scale(1.03,1)" font-family="Liberation Serif" font-size="24.3" text-anchor="end" fill="#000" stroke="#000">10</text><text transform="translate(78.3,474.61) scale(1.03,1)" font-family="Liberation Serif" font-size="24.3" text-anchor="end" fill="#000" stroke="#000">15</text><text transform="translate(78.3,425.23) scale(1.03,1)" font-family="Liberation Serif" font-size="24.3" text-anchor="end" fill="#000" stroke="#000">20</text><text transform="translate(78.3,375.85) scale(1.03,1)" font-family="Liberation Serif" font-size="24.3" text-anchor="end" fill="#000" stroke="#000">25</text><text transform="translate(100.60,651.9) scale(1.03,1)" font-family="Liberation Serif" font-size="24.3" text-anchor="middle" fill="#000" stroke="#000">0</text><text transform="translate(213.62,651.9) scale(1.03,1)" font-family="Liberation Serif" font-size="24.3" text-anchor="middle" fill="#000" stroke="#000">20</text><text transform="translate(326.64,651.9) scale(1.03,1)" font-family="Liberation Serif" font-size="24.3" text-anchor="middle" fill="#000" stroke="#000">40</text><text transform="translate(439.66,651.9) scale(1.03,1)" font-family="Liberation Serif" font-size="24.3" text-anchor="middle" fill="#000" stroke="#000">60</text><text transform="translate(552.68,651.9) scale(1.03,1)" font-family="Liberation Serif" font-size="24.3" text-anchor="middle" fill="#000" stroke="#000">80</text><text transform="translate(665.70,651.9) scale(1.03,1)" font-family="Liberation Serif" font-size="24.3" text-anchor="middle" fill="#000" stroke="#000">100</text><text x="329" y="687.7" font-family="Liberation Serif" font-size="25.5" fill="#000" stroke="#000">No. of test</text><text x="180" y="717.7" font-family="Liberation Serif" font-size="28.2" fill="#000" stroke="#000">b. Stability of damping ratio</text><text transform="translate(19.8,599.0) rotate(-90)" font-family="Liberation Serif" font-size="25.5" fill="#000" stroke="#000">damping ratio (%)</text><text transform="translate(183.70,422.70) scale(1.0,1)" font-family="Liberation Serif" font-size="23" fill="#1b2f68" stroke="#1b2f68" xml:space="preserve">Vertical:</text><text transform="translate(267.90,422.70) scale(1.15,1)" font-family="Liberation Serif" font-size="23" fill="#1b2f68" stroke="#1b2f68" xml:space="preserve">μ</text><text transform="translate(282.20,423.60) scale(1.0,1)" font-family="Liberation Serif" font-size="15.5" fill="#1b2f68" stroke="#1b2f68" xml:space="preserve">h</text><text transform="translate(294.90,422.70) scale(1.0,1)" font-family="Liberation Serif" font-size="23" fill="#1b2f68" stroke="#1b2f68" xml:space="preserve">=14.66</text><text transform="translate(368.50,422.70) scale(1.0,1)" font-family="Liberation Serif" font-size="23" fill="#1b2f68" stroke="#1b2f68" xml:space="preserve">;</text><text transform="translate(381.19,422.70) scale(1.2,1)" font-family="Liberation Serif" font-size="19.5" fill="#1b2f68" stroke="#1b2f68" xml:space="preserve">σ</text><text transform="translate(396.20,423.60) scale(1.0,1)" font-family="Liberation Serif" font-size="15.5" fill="#1b2f68" stroke="#1b2f68" xml:space="preserve">h</text><text transform="translate(402.00,422.70) scale(1.0,1)" font-family="Liberation Serif" font-size="23" fill="#1b2f68" stroke="#1b2f68" xml:space="preserve">=1.1; Cv(%)=7.5</text><text transform="translate(167.70,560.60) scale(1.0,1)" font-family="Liberation Serif" font-size="23" fill="#1b2f68" stroke="#1b2f68" xml:space="preserve">Torsional:</text><text transform="translate(264.50,560.60) scale(1.15,1)" font-family="Liberation Serif" font-size="23" fill="#1b2f68" stroke="#1b2f68" xml:space="preserve">μ</text><text transform="translate(278.27,561.50) scale(1.25,1)" font-family="Liberation Serif" font-size="15" fill="#1b2f68" stroke="#1b2f68" xml:space="preserve">α</text><text transform="translate(294.10,560.60) scale(1.0,1)" font-family="Liberation Serif" font-size="23" fill="#1b2f68" stroke="#1b2f68" xml:space="preserve">=2.406</text><text transform="translate(366.50,560.60) scale(1.0,1)" font-family="Liberation Serif" font-size="23" fill="#1b2f68" stroke="#1b2f68" xml:space="preserve">;</text><text transform="translate(380.29,560.60) scale(1.2,1)" font-family="Liberation Serif" font-size="19.5" fill="#1b2f68" stroke="#1b2f68" xml:space="preserve">σ</text><text transform="translate(394.37,561.50) scale(1.25,1)" font-family="Liberation Serif" font-size="15" fill="#1b2f68" stroke="#1b2f68" xml:space="preserve">α</text><text transform="translate(404.40,560.60) scale(1.0,1)" font-family="Liberation Serif" font-size="23" fill="#1b2f68" stroke="#1b2f68" xml:space="preserve">=0.38; Cv(%)=15.7</text></svg></body></html>
